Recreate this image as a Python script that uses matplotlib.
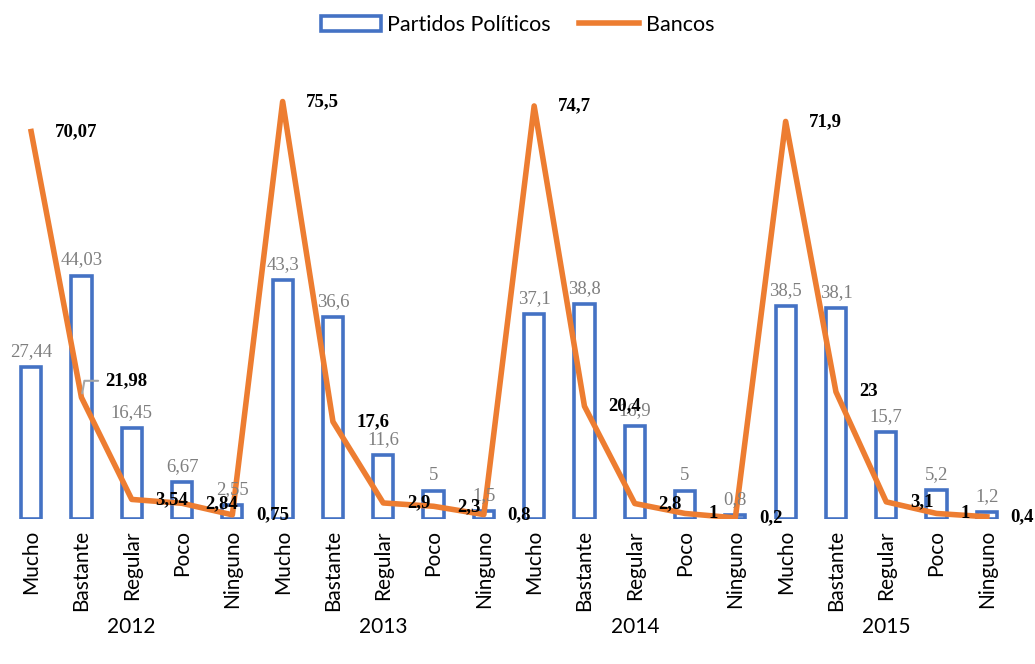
import numpy as np
import matplotlib.pyplot as plt
from matplotlib.transforms import blended_transform_factory
from matplotlib.patches import Patch
from matplotlib.lines import Line2D

years = ['2012', '2013', '2014', '2015']
niveles = ['Mucho', 'Bastante', 'Regular', 'Poco', 'Ninguno']

partidos = [27.44, 44.03, 16.45, 6.67, 2.55,
            43.3, 36.6, 11.6, 5, 1.5,
            37.1, 38.8, 16.9, 5, 0.8,
            38.5, 38.1, 15.7, 5.2, 1.2]
bancos = [70.07, 21.98, 3.54, 2.84, 0.75,
          75.5, 17.6, 2.9, 2.3, 0.8,
          74.7, 20.4, 2.8, 1, 0.2,
          71.9, 23, 3.1, 1, 0.4]

blue = '#4472C4'
orange = '#ED7D31'

def fmt(v):
    return ('%g' % v).replace('.', ',')

fig = plt.figure(figsize=(10.35, 6.64), dpi=100)
ax = fig.add_axes([6 / 1035, (664 - 519) / 664, 1006 / 1035, 449 / 664])

x = np.arange(len(partidos))
ax.bar(x, partidos, width=0.4, facecolor='white', edgecolor=blue, linewidth=2.6)
ax.plot(x, bancos, color=orange, linewidth=4, solid_joinstyle='round')

# bar values in gray above each bar
for xi, v in zip(x, partidos):
    ax.annotate(fmt(v), (xi, v), xytext=(0, 5), textcoords='offset points',
                ha='center', va='bottom', color='#7F7F7F', fontsize=13.5,
                family='Liberation Serif')

# line values in bold to the right of each point
for i, v in enumerate(bancos):
    if i == 1:
        ax.annotate(fmt(v), (x[i], v), xytext=(17, 12), textcoords='offset points',
                    ha='left', va='center', color='black', fontsize=13.5,
                    fontweight='bold', family='Liberation Serif',
                    arrowprops=dict(arrowstyle='-', color='#A6A6A6', lw=1.5,
                                    shrinkA=3, shrinkB=3,
                                    connectionstyle='angle,angleA=180,angleB=80,rad=0'))
    else:
        ax.annotate(fmt(v), (x[i], v), xytext=(17, 0), textcoords='offset points',
                    ha='left', va='center', color='black', fontsize=13.5,
                    fontweight='bold', family='Liberation Serif')

ax.set_xlim(-0.5, len(partidos) - 0.5)
ax.set_ylim(0, 81.2)
ax.set_yticks([])
ax.set_xticks(x)
ax.set_xticklabels(niveles * len(years), rotation=90, fontsize=15, family='Lato')
ax.tick_params(axis='x', length=0, pad=8)
for s in ax.spines.values():
    s.set_visible(False)

trans = blended_transform_factory(ax.transData, ax.transAxes)
for k, yr in enumerate(years):
    ax.text(k * 5 + 2, -0.241, yr, transform=trans, ha='center', va='center',
            fontsize=15, family='Lato')

handles = [Patch(facecolor='white', edgecolor=blue, linewidth=2.6),
           Line2D([0], [0], color=orange, linewidth=4)]
fig.legend(handles, ['Partidos Políticos', 'Bancos'], loc='center',
           bbox_to_anchor=(0.5, 1 - 25 / 664), ncol=2, frameon=False,
           prop={'family': 'Lato', 'size': 15.5}, handlelength=2.8,
           columnspacing=1.3, handletextpad=0.3)

fig.savefig('out.png', dpi=100)
